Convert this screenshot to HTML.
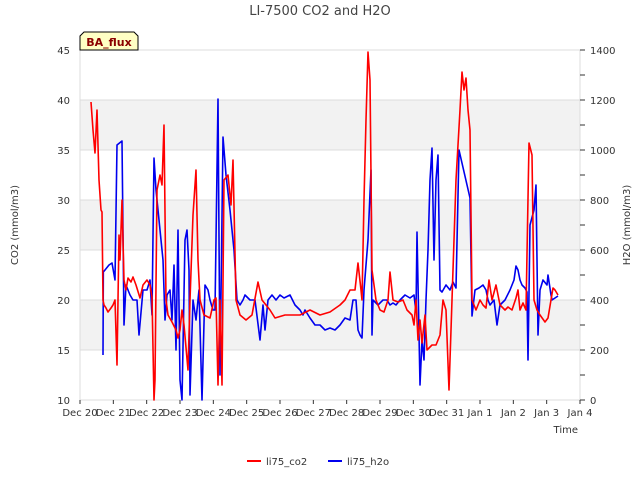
<!DOCTYPE html>
<html><head><meta charset="utf-8"><style>
body{margin:0;background:#fff;}
svg{font-family:"DejaVu Sans","Liberation Sans",sans-serif;}
</style></head><body>
<svg id="c" width="640" height="480"></svg>
<script>
const xTickLabels=["Dec 20","Dec 21","Dec 22","Dec 23","Dec 24","Dec 25","Dec 26","Dec 27","Dec 28","Dec 29","Dec 30","Dec 31","Jan 1","Jan 2","Jan 3","Jan 4"];
const leftTicks=[10,15,20,25,30,35,40,45];
const rightTicks=[0,200,400,600,800,1000,1200,1400];
const co2Days=[0.33,0.39,0.45,0.51,0.57,0.63,0.66,0.69,0.72,0.78,0.84,0.93,0.99,1.05,1.11,1.17,1.2,1.26,1.32,1.38,1.44,1.53,1.59,1.68,1.8,1.89,2.01,2.1,2.16,2.22,2.25,2.31,2.4,2.46,2.52,2.58,2.64,2.76,2.88,2.94,3.0,3.06,3.12,3.24,3.3,3.39,3.48,3.54,3.6,3.72,3.9,4.02,4.08,4.14,4.2,4.26,4.32,4.44,4.53,4.59,4.68,4.8,4.98,5.16,5.34,5.46,5.58,5.7,5.85,6.15,6.6,6.9,7.2,7.5,7.8,7.95,8.1,8.25,8.34,8.43,8.46,8.52,8.58,8.64,8.7,8.76,8.88,9.0,9.12,9.24,9.3,9.39,9.54,9.69,9.81,9.96,10.02,10.08,10.14,10.2,10.26,10.35,10.41,10.56,10.68,10.8,10.89,10.98,11.07,11.16,11.28,11.4,11.46,11.52,11.58,11.64,11.7,11.76,11.88,12.0,12.09,12.18,12.27,12.36,12.48,12.6,12.75,12.84,12.96,13.08,13.14,13.2,13.29,13.38,13.47,13.56,13.62,13.71,13.8,13.95,14.04,14.13,14.19,14.25,14.34];
const co2Vals=[39.8,37,34.7,39,32,29,28.8,20,19.5,19.2,18.8,19.2,19.5,20,13.5,26.5,24,30,22,21,22.2,21.8,22.3,21.5,20.2,21.5,22,21.5,20.3,10,12,31,32.5,31.5,37.5,20,18.5,17.8,17,16.2,17,19,17.5,13,20,28.5,33,24,20,18.5,18.2,20,20.2,11.5,20,11.5,32,32.5,29.5,34,20,18.5,18,18.5,21.8,20,19.5,19,18.2,18.5,18.5,19,18.5,18.8,19.5,20,21,21,23.7,21,20,30,38,44.8,42,23,20,19,18.8,20,22.8,20,19.8,20,19,18.5,17.5,20,16,18,15.7,18.5,15,15.5,15.5,16.5,20,19,11,20,32,39,42.8,41,42.2,39,37,20,19,20,19.5,19.2,22,20,21.5,19.5,19,19.3,19,20.2,21,19,19.7,19,35.7,34.5,20,19,18.5,17.8,18.2,20,21.2,21,20.5];
const h2oDays=[0.69,0.7,0.75,0.87,0.96,1.05,1.11,1.26,1.32,1.38,1.5,1.59,1.71,1.77,1.89,2.01,2.1,2.16,2.22,2.28,2.4,2.49,2.55,2.61,2.7,2.76,2.82,2.88,2.94,3.0,3.06,3.15,3.21,3.27,3.3,3.39,3.48,3.57,3.66,3.75,3.84,3.9,3.99,4.05,4.14,4.2,4.29,4.38,4.5,4.62,4.71,4.8,4.89,4.95,5.1,5.25,5.4,5.49,5.55,5.64,5.76,5.88,6.0,6.12,6.3,6.45,6.6,6.69,6.75,6.9,7.05,7.2,7.35,7.5,7.65,7.8,7.95,8.1,8.19,8.28,8.34,8.4,8.46,8.52,8.64,8.73,8.76,8.79,8.94,9.09,9.21,9.3,9.39,9.48,9.6,9.75,9.9,10.02,10.08,10.11,10.2,10.26,10.32,10.38,10.44,10.5,10.56,10.62,10.68,10.74,10.8,10.86,10.98,11.1,11.19,11.28,11.37,11.7,11.76,11.85,11.97,12.09,12.18,12.24,12.3,12.42,12.51,12.6,12.75,12.9,13.02,13.08,13.14,13.2,13.26,13.35,13.41,13.44,13.5,13.62,13.68,13.74,13.8,13.89,14.01,14.04,14.13,14.16,14.34];
const h2oVals=[180,512,520,540,548,480,1020,1036,300,460,420,400,400,260,440,440,480,340,968,840,680,560,320,420,440,320,540,200,680,80,0,640,680,520,20,400,320,440,0,460,440,400,360,360,1204,100,1052,900,760,600,400,380,400,420,400,400,240,380,280,400,420,400,420,408,420,380,360,340,360,328,300,300,280,288,280,300,328,320,400,400,280,260,248,440,640,920,260,400,380,400,400,380,388,380,400,420,408,420,352,672,60,240,160,400,600,880,1008,560,880,980,440,432,460,440,472,448,1000,808,336,440,448,460,440,400,380,400,300,380,400,440,480,536,520,480,460,448,432,160,700,760,860,260,440,480,460,500,420,400,416];

const NS="http://www.w3.org/2000/svg";
const svg=document.getElementById('c');
const L=80,R=580,T=50,B=400;
const xs=d=>L+d*(R-L)/15;
const yl=v=>B-(v-10)*(B-T)/35;
const yr=v=>B-v*(B-T)/1400;
function mk(tag,attrs,parent){const e=document.createElementNS(NS,tag);for(const k in attrs)e.setAttribute(k,attrs[k]);(parent||svg).appendChild(e);return e;}
function txt(s,attrs){const e=mk('text',attrs);e.textContent=s;return e;}

const bg=mk('rect',{x:L,y:T,width:R-L,height:B-T,fill:'#fff'});


[[15,20],[25,30],[35,40]].forEach(b=>{
  const r=mk('rect',{x:L,y:yl(b[1]),width:R-L,height:yl(b[0])-yl(b[1]),fill:'#f2f2f2'});
  
  
});
leftTicks.forEach(v=>{
  const g=mk('line',{x1:L,x2:R,y1:yl(v),y2:yl(v),stroke:'#dcdcdc','stroke-width':1});
  
  
  const t=txt(v,{x:L-10,y:yl(v)+4,'text-anchor':'end','font-size':10,fill:'#333'});
  
  
});
mk('line',{x1:L,x2:L,y1:T,y2:B,stroke:'#dcdcdc'});
mk('line',{x1:R,x2:R,y1:T,y2:B,stroke:'#dcdcdc'});
rightTicks.forEach(v=>{
  mk('line',{x1:R,x2:R+5,y1:yr(v),y2:yr(v),stroke:'#333'});
  const t=txt(v,{x:R+10,y:yr(v)+4,'font-size':10,fill:'#333'});
  
  
  if(v<1400)mk('line',{x1:R,x2:R+5,y1:yr(v+100),y2:yr(v+100),stroke:'#333'});
});
xTickLabels.forEach((s,i)=>{
  mk('line',{x1:xs(i),x2:xs(i),y1:B,y2:B+4,stroke:'#333'});
  const t=txt(s,{x:xs(i),y:B+16,'text-anchor':'middle','font-size':10,fill:'#333'});
  
  
});
function series(days,vals,ys,color,name){
  const p=mk('polyline',{points:days.map((d,i)=>xs(d)+','+ys(vals[i])).join(' '),fill:'none',stroke:color,'stroke-width':1.6,'stroke-linejoin':'round'});
  
  
}
series(h2oDays,h2oVals,yr,'#0000ee','series-li75-h2o');
series(co2Days,co2Vals,yl,'#ff0000','series-li75-co2');

let t=txt('LI-7500 CO2 and H2O',{x:320,y:15,'text-anchor':'middle','font-size':13,fill:'#444'});


t=txt('CO2 (mmol/m3)',{x:18,y:225,'text-anchor':'middle','font-size':10,fill:'#333',transform:'rotate(-90 18 225)'});


t=txt('H2O (mmol/m3)',{x:630,y:225,'text-anchor':'middle','font-size':10,fill:'#333',transform:'rotate(-90 630 225)'});


t=txt('Time',{x:578,y:433,'text-anchor':'end','font-size':10,fill:'#333'});



const lb=mk('path',{d:'M84,32 H134 L138,36 V50 H80 V36 Z',fill:'#ffffc4',stroke:'#000','stroke-width':1});


t=txt('BA_flux',{x:109,y:46,'text-anchor':'middle','font-size':11,'font-weight':'bold',fill:'#8b0000'});



let l=mk('line',{x1:247,x2:261,y1:461,y2:461,stroke:'#ff0000','stroke-width':2});


t=txt('li75_co2',{x:266,y:465,'font-size':10,fill:'#333'});


l=mk('line',{x1:328,x2:342,y1:461,y2:461,stroke:'#0000ee','stroke-width':2});


t=txt('li75_h2o',{x:347,y:465,'font-size':10,fill:'#333'});


</script>
</body></html>
